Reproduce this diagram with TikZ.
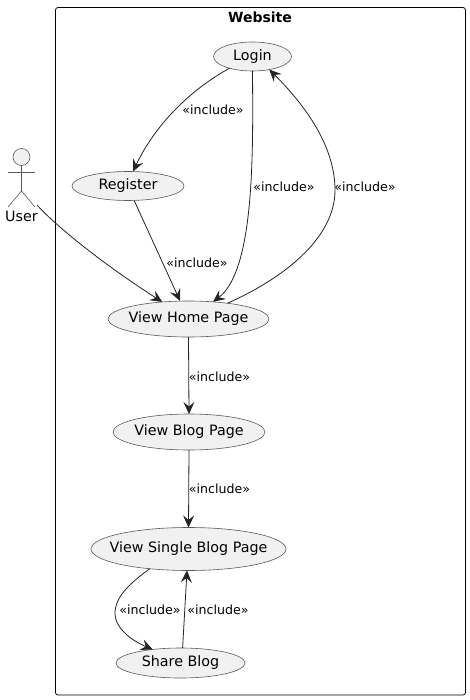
\documentclass[tikz,border=0pt]{standalone}
\usepackage{fontspec}
\setmainfont{DejaVu Sans}
\usetikzlibrary{shapes.geometric,arrows.meta}
\definecolor{ink}{HTML}{242424}
\definecolor{edge}{HTML}{5A5A5A}
\definecolor{usefill}{HTML}{F1F1F1}
\tikzset{
  usecase/.style={ellipse,draw=edge,fill=usefill,line width=0.6pt,inner xsep=-30pt,inner ysep=-8pt,outer sep=0pt,font=\fontsize{14.3}{16}\selectfont,text=black},
  link/.style={draw=ink,line width=0.8pt,-{Stealth[length=12pt,width=11pt,inset=4.5pt]}},
  lbl/.style={font=\fontsize{12.6}{15}\selectfont,text=black,inner sep=0pt},
  actorline/.style={draw=edge,line width=0.6pt}
}
\begin{document}
\begin{tikzpicture}[x=1pt,y=-1pt]
\useasboundingbox (0,0) rectangle (470,700);
\fill[white] (0,0) rectangle (470,700);
\node[draw=black,line width=0.8pt,rounded corners=2.5pt,minimum width=410pt,minimum height=687.5pt,inner sep=0pt,outer sep=0pt] (frame) at (260.5,351.25) {};
\node[font=\bfseries\fontsize{14}{16}\selectfont,inner sep=0pt] (title) at (260,17) {Website};

\node[usecase,minimum width=78pt,minimum height=29pt] (login) at (252.5,56.5) {Login};
\node[usecase,minimum width=112pt,minimum height=29pt] (register) at (128,186) {Register};
\node[usecase,minimum width=161pt,minimum height=36pt] (home) at (188.5,319) {View Home Page};
\node[usecase,minimum width=152pt,minimum height=36pt] (blog) at (189,432) {View Blog Page};
\node[usecase,minimum width=195pt,minimum height=43pt] (single) at (188.5,549) {View Single Blog Page};
\node[usecase,minimum width=129pt,minimum height=30pt] (share) at (180.5,663) {Share Blog};

% actor
\node[circle,draw=edge,fill=usefill,line width=0.6pt,minimum size=17pt,inner sep=0pt,outer sep=0pt] (head) at (21.5,157) {};
\coordinate (hip) at (21.5,191);
\coordinate (armL) at (8,172);
\coordinate (armR) at (35,172);
\coordinate (footL) at (8,207);
\coordinate (footR) at (35,207);
\coordinate (userend) at (37,205);
\path[actorline] (head.south) -- (hip);
\path[actorline] (armL) -- (armR);
\path[actorline] (footL) -- (hip) -- (footR);
\node[font=\fontsize{14.3}{16}\selectfont,inner sep=0pt] (user) at (21.5,216) {User};

% connectors
\path[link] (userend) .. controls (55,225) and (100,262) .. (home.147);
\path[link] (login.207.7) .. controls (190,90) and (155,125) .. (register.71);
\path[link] (login.270) .. controls (253,150) and (255,270) .. (home.35);
\path[link] (register.-67.5) -- (home.115.3);
\path[link] (home.22.3) .. controls (280,280) and (335,240) .. (335,190) .. controls (335,150) and (310,110) .. (login.-38.5);
\path[link] (home.south) -- (blog.north);
\path[link] (blog.south) -- (single.north);
\path[link] (single.-153) .. controls (130,583) and (115,597) .. (115,613) .. controls (115,630) and (135,642) .. (share.154.7);
\path[link] (share.82.4) -- (single.-94);

% labels
\node[lbl] (l1) at (213,109.5) {«include»};
\node[lbl] (l2) at (284,187) {«include»};
\node[lbl] (l3) at (365,187) {«include»};
\node[lbl] (l4) at (197,262.5) {«include»};
\node[lbl] (l5) at (219.5,376.5) {«include»};
\node[lbl] (l6) at (219.5,488.5) {«include»};
\node[lbl] (l7) at (150,609.5) {«include»};
\node[lbl] (l8) at (218,609.5) {«include»};
\end{tikzpicture}
\end{document}
